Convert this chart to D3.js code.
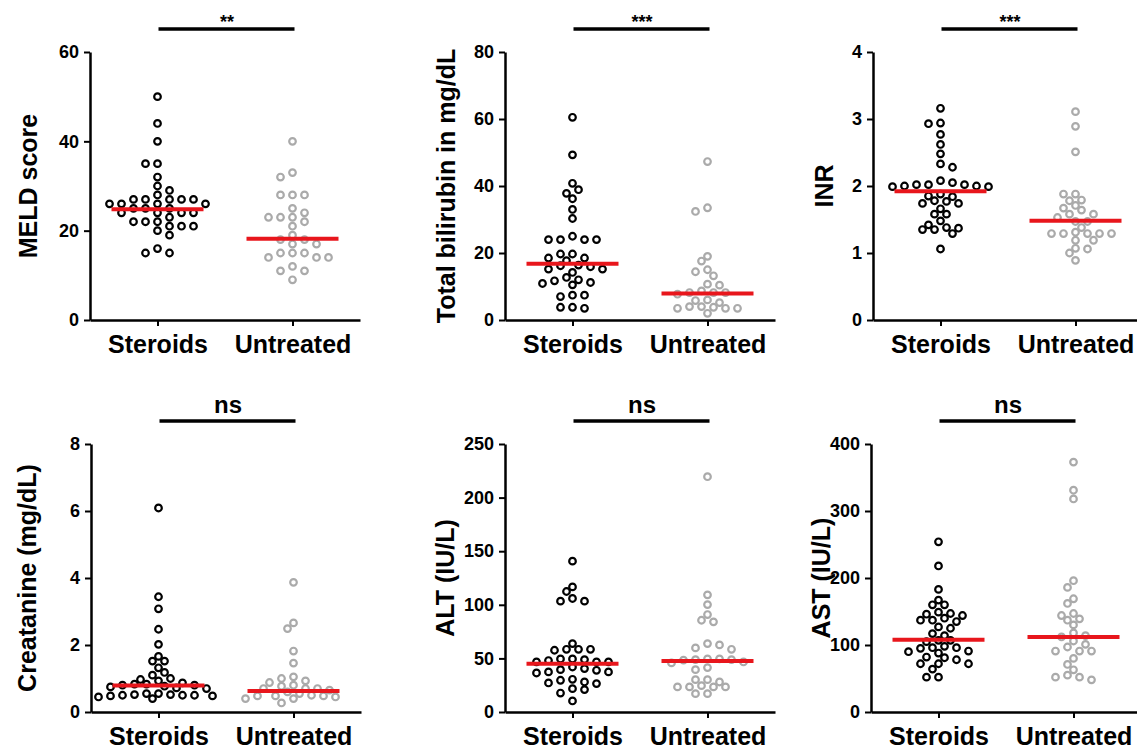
<!DOCTYPE html>
<html>
<head>
<meta charset="utf-8">
<script src="https://cdn.jsdelivr.net/npm/d3@7"></script>
<style>
  body { margin: 0; background: #fff; }
  svg { font-family: "Liberation Sans", Arial, sans-serif; font-weight: bold; }
</style>
</head>
<body>
<svg id="chart" width="1137" height="751"></svg>
<script>
// groups on the x axis
const groups = ["Steroids", "Untreated"];

// values (one array per group and panel)
const meldSteroids = [50, 44, 40, 35, 35, 32, 30, 29, 28, 27, 27, 27, 27, 27, 26, 26, 26, 26, 25, 25, 25,
    24, 24, 24, 24, 23, 22, 22, 22, 21, 21, 21, 20, 19, 16, 15, 15];
const meldUntreated = [40, 33, 32, 28, 28, 28, 25, 24, 23, 23, 23, 22, 21, 19, 18, 18, 17, 17, 15, 15, 15,
    14, 14, 14, 12, 11, 11, 9];
const meldLines = [24.8, 18.2];

const biliSteroids = [60.5, 49.3, 40.8, 38.9, 37.8, 36.2, 33, 30.3, 25, 24, 24, 24, 24, 19.7, 19.7, 18.5, 18.5,
    17.7, 16.4, 16.2, 15.9, 15.2, 15.2, 14.2, 12.7, 12, 11.7, 11.2, 10.9, 10.5, 7.4, 7.4, 7, 3.8, 3.8, 3.5];
const biliUntreated = [47.3, 33.5, 32.4, 19, 17.6, 15, 14.4, 13.2, 10.7, 10.4, 8.7, 8.2, 8.2, 8.2, 7.7, 6, 5.8,
    5.2, 4, 4, 3.8, 3.5, 3.5, 3.5, 2];
const biliLines = [16.8, 7.9];

const inrSteroids = [3.16, 2.94, 2.93, 2.77, 2.62, 2.48, 2.33, 2.28, 2.08, 2.05, 2.02, 2.02, 2.02, 2.0, 2.0, 1.99,
    1.99, 1.88, 1.85, 1.84, 1.78, 1.77, 1.74, 1.74, 1.66, 1.58, 1.58, 1.48, 1.42, 1.38, 1.37, 1.35, 1.35, 1.29, 1.06];
const inrUntreated = [3.11, 2.89, 2.51, 1.88, 1.88, 1.79, 1.78, 1.71, 1.67, 1.64, 1.58, 1.58, 1.53, 1.47, 1.47,
    1.38, 1.31, 1.29, 1.29, 1.29, 1.29, 1.29, 1.19, 1.19, 1.07, 1.06, 1.0, 0.89];
const inrLines = [1.92, 1.48];

const creatSteroids = [6.09, 3.44, 3.08, 2.47, 2.02, 1.66, 1.52, 1.52, 1.32, 1.18, 1.10, 1.0, 0.97, 0.93, 0.87,
    0.83, 0.83, 0.8, 0.8, 0.77, 0.75, 0.72, 0.7, 0.55, 0.55, 0.52, 0.52, 0.5, 0.5, 0.5, 0.48, 0.48, 0.45, 0.4];
const creatUntreated = [3.87, 2.66, 2.49, 1.82, 1.46, 1.05, 1.0, 0.93, 0.88, 0.8, 0.77, 0.7, 0.7, 0.7, 0.65, 0.6,
    0.55, 0.5, 0.48, 0.48, 0.48, 0.45, 0.4, 0.4, 0.27];
const creatLines = [0.79, 0.63];

const altSteroids = [140.7, 116.7, 112.4, 105.9, 103.4, 103.4, 63.8, 58.5, 58.5, 58.5, 57.6, 49.5, 49.5, 48.9, 48,
    46.7, 46.7, 46.7, 42, 40.5, 39.5, 38.9, 37.4, 37.4, 36.4, 30.5, 29.6, 28, 27.1, 26.5, 21.8, 20.9, 17.7, 10.3];
const altUntreated = [219.5, 109.3, 100.2, 90.9, 85.6, 84.1, 63.8, 62.6, 59.8, 58.5, 49.5, 49.5, 48.9, 48.9, 48.3,
    46.7, 45.8, 41.4, 39.5, 30.2, 30.2, 28, 24.6, 23.4, 23.4, 23.4, 23.4, 17.1, 17.1];
const altLines = [45.1, 47.6];

const astSteroids = [254, 218, 183, 167, 160, 160, 149, 147, 146, 144, 140, 137, 137, 135, 127, 125, 117, 114, 107,
    107, 105, 98, 96, 96, 95, 91, 90, 88, 82, 81, 78, 72, 72, 72, 64, 52, 52];
const astUntreated = [373, 331, 318, 196, 186, 169, 162, 147, 144, 139, 137, 130, 118, 114, 112, 106, 101, 97, 91,
    91, 91, 80, 71, 63, 55, 52, 52, 48];
const astLines = [108, 112];

// panel layout
const panels = [
    { label: "MELD score", data: [meldSteroids, meldUntreated], lines: meldLines, max: 60, ticks: [0, 20, 40, 60], sig: "**", left: 90, top: 52, bottom: 320, labelX: 28 },
    { label: "Total bilirubin in mg/dL", data: [biliSteroids, biliUntreated], lines: biliLines, max: 80, ticks: [0, 20, 40, 60, 80], sig: "***", left: 505, top: 52, bottom: 320, labelX: 446 },
    { label: "INR", data: [inrSteroids, inrUntreated], lines: inrLines, max: 4, ticks: [0, 1, 2, 3, 4], sig: "***", left: 873, top: 52, bottom: 320, labelX: 824 },
    { label: "Creatanine (mg/dL)", data: [creatSteroids, creatUntreated], lines: creatLines, max: 8, ticks: [0, 2, 4, 6, 8], sig: "ns", left: 91, top: 444, bottom: 712, labelX: 27 },
    { label: "ALT (IU/L)", data: [altSteroids, altUntreated], lines: altLines, max: 250, ticks: [0, 50, 100, 150, 200, 250], sig: "ns", left: 505, top: 444, bottom: 712, labelX: 445 },
    { label: "AST (IU/L)", data: [astSteroids, astUntreated], lines: astLines, max: 400, ticks: [0, 100, 200, 300, 400], sig: "ns", left: 871, top: 444, bottom: 712, labelX: 821 }
];

const dotR = 3.3;
const dotColors = ["#000", "#aaaaaa"];
const lineRed = "#e8161c";
const step = 6, minDist = 7.5;

const svg = d3.select('#chart');

// simple beeswarm: put each dot nearest the centre without much overlap
function swarm(values, y) {
    const pts = values.map(v => ({ v: v, py: y(v) })).sort((a, b) => a.py - b.py);
    const placed = [];
    pts.forEach((p, i) => {
        for (let k = 0; k < 30; k++) {
            let cands = k === 0 ? [0] : (i % 2 ? [k * step, -k * step] : [-k * step, k * step]);
            let ok = cands.find(dx => placed.every(q => (q.dx - dx) ** 2 + (q.py - p.py) ** 2 >= minDist * minDist));
            if (ok !== undefined) { p.dx = ok; break; }
        }
        placed.push(p);
    });
    return pts;
}

panels.forEach(pn => {
    const g = svg.append('g');
    const y = d3.scaleLinear().domain([0, pn.max]).range([pn.bottom, pn.top]);
    const x = d3.scalePoint().domain(groups).range([pn.left, pn.left + 270]).padding(0.5);

    // y axis
    const ya = g.append('g')
        .attr('transform', `translate(${pn.left},0)`)
        .call(d3.axisLeft(y).tickValues(pn.ticks).tickFormat(d3.format('d'))
            .tickSize(6).tickSizeOuter(0).tickPadding(5));
    ya.select('.domain').attr('stroke-width', 2.5);
    ya.selectAll('.tick line').attr('stroke-width', 2);
    ya.selectAll('text').attr('font-size', 18).attr('font-weight', 'bold').attr('fill', '#000')
        .attr('font-family', '"Liberation Sans Narrow", "Liberation Sans", Arial, sans-serif')
        .attr('textLength', null);

    // x axis
    const xa = g.append('g')
        .attr('transform', `translate(0,${pn.bottom})`)
        .call(d3.axisBottom(x).tickSize(6).tickSizeOuter(0).tickPadding(9));
    xa.select('.domain').attr('stroke-width', 2.5);
    xa.selectAll('.tick line').attr('stroke-width', 2);
    xa.selectAll('text').attr('font-size', 25).attr('font-weight', 'bold').attr('fill', '#000')
        .attr('font-family', '"Liberation Sans", Arial, sans-serif');

    // y label
    g.append('text')
        .attr('transform', `translate(${pn.labelX},${(pn.top + pn.bottom) / 2}) rotate(-90)`)
        .attr('text-anchor', 'middle')
        .attr('dy', '0.35em')
        .attr('font-size', 25)
        .text(pn.label);

    // dots
    groups.forEach((grp, gi) => {
        const pts = swarm(pn.data[gi], y);
        g.selectAll(null)
            .data(pts)
            .enter()
            .append('circle')
            .attr('cx', d => x(grp) + d.dx)
            .attr('cy', d => d.py)
            .attr('r', dotR)
            .attr('fill', 'none')
            .attr('stroke', dotColors[gi])
            .attr('stroke-width', 2.2);
    });

    // median lines
    g.selectAll(null)
        .data(groups)
        .enter()
        .append('line')
        .attr('x1', d => x(d) - 46)
        .attr('x2', d => x(d) + 46)
        .attr('y1', (d, i) => y(pn.lines[i]))
        .attr('y2', (d, i) => y(pn.lines[i]))
        .attr('stroke', lineRed)
        .attr('stroke-width', 4);

    // significance bracket
    const by = pn.top - 23;
    g.append('line')
        .attr('x1', x(groups[0]) + 1).attr('x2', x(groups[1]) + 2)
        .attr('y1', by).attr('y2', by)
        .attr('stroke', '#000').attr('stroke-width', 3.5);
    g.append('text')
        .attr('x', (x(groups[0]) + x(groups[1])) / 2 + 2)
        .attr('y', pn.sig === 'ns' ? by - 8 : by - 1)
        .attr('text-anchor', 'middle')
        .attr('font-size', pn.sig === 'ns' ? 24 : 18)
        .text(pn.sig);
});
</script>
</body>
</html>
